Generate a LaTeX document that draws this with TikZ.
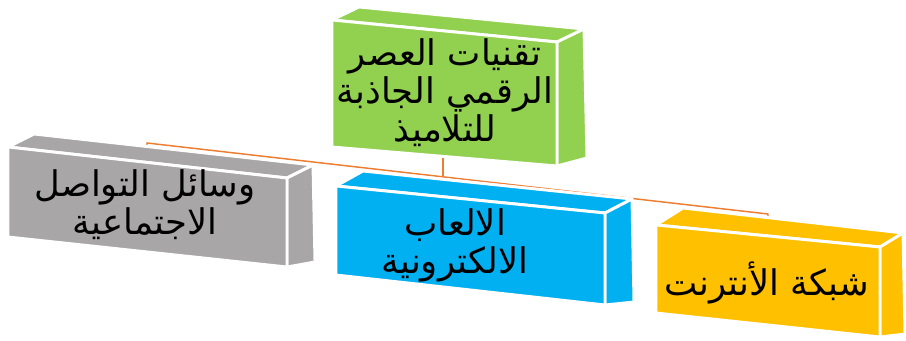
\documentclass[tikz,border=0pt]{standalone}
\usepackage{fontspec}
\newfontfamily\arabicfont[Script=Arabic]{DejaVu Sans}
\TeXXeTstate=1
\definecolor{cgreen}{HTML}{92D050}
\definecolor{cgray}{HTML}{A8A6A6}
\definecolor{cblue}{HTML}{00B0F0}
\definecolor{cyellow}{HTML}{FFC000}
\definecolor{corange}{HTML}{ED7D31}
\begin{document}
\begin{tikzpicture}[x=0.75pt,y=-0.75pt,
  face/.style={draw=white,line width=2.2pt,line join=round},
  conn/.style={draw=corange,line width=1.1pt},
  lbl/.style={font=\arabicfont\fontsize{26.5}{28.5}\selectfont,align=center,inner sep=0pt,text=black}]
\useasboundingbox (0,0) rectangle (906,341);
% connector points
\coordinate (grayTop) at (147,160);
\coordinate (busL) at (147,143);
\coordinate (busR) at (768,214);
\coordinate (yellowTop) at (768,236);
\coordinate (greenBot) at (443,150);
\coordinate (busGreen) at (443,176.8);
\coordinate (busBlue) at (472,180);
\coordinate (blueTop) at (472,200);
\draw[conn] (grayTop) -- (busL) -- (busR) -- (yellowTop);
\draw[conn] (greenBot) -- (busGreen);
\draw[conn] (busBlue) -- (blueTop);
% green box
\fill[cgreen,face] (332,20) -- (557,42) -- (584,29) -- (359,7) -- cycle;
\fill[cgreen,face] (557,42) -- (584,29) -- (587,158) -- (557,166) -- cycle;
\fill[cgreen,face] (332,20) -- (557,42) -- (557,166) -- (332,147) -- cycle;
% gray box
\fill[cgray,face] (8,147) -- (287,178) -- (313,165) -- (34,134) -- cycle;
\fill[cgray,face] (287,178) -- (313,165) -- (315,262) -- (287,267) -- cycle;
\fill[cgray,face] (8,147) -- (287,178) -- (287,267) -- (8,237) -- cycle;
% blue box
\fill[cblue,face] (336,186) -- (605,213) -- (632,199) -- (363,171) -- cycle;
\fill[cblue,face] (605,213) -- (632,199) -- (634,302) -- (605,305) -- cycle;
\fill[cblue,face] (336,186) -- (605,213) -- (605,305) -- (336,275) -- cycle;
% yellow box
\fill[cyellow,face] (656,225) -- (880,247) -- (903,233) -- (683,208) -- cycle;
\fill[cyellow,face] (880,247) -- (903,233) -- (905,334) -- (880,337) -- cycle;
\fill[cyellow,face] (656,225) -- (880,247) -- (880,337) -- (656,313) -- cycle;
% labels
\node[lbl] (green) at (445,93) {\beginR تقنيات العصر\endR\\\beginR الرقمي الجاذبة\endR\\\beginR للتلاميذ\endR};
\node[lbl] (gray) at (145,205) {\beginR وسائل التواصل\endR\\\beginR الاجتماعية\endR};
\node[lbl] (blue) at (455,245) {\beginR الالعاب\endR\\\beginR الالكترونية\endR};
\node[lbl] (yellow) at (767,283) {\beginR شبكة الأنترنت\endR};
\end{tikzpicture}
\end{document}
